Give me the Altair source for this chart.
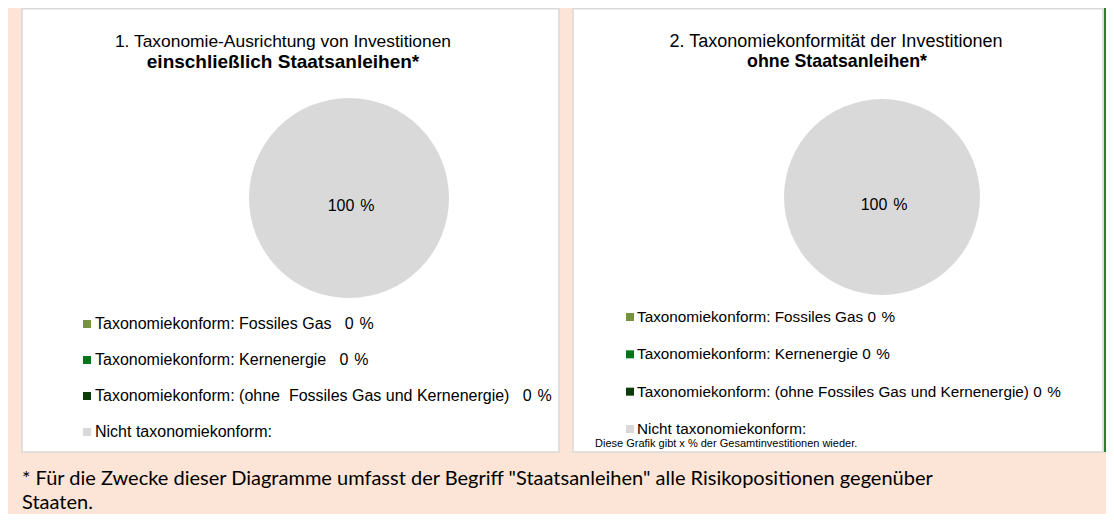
import altair as alt
import pandas as pd

# ---- data -------------------------------------------------------------
title_1 = "1. Taxonomie-Ausrichtung von Investitionen"
title_1b = "einschließlich Staatsanleihen*"
title_2 = "2. Taxonomiekonformität der Investitionen"
title_2b = "ohne Staatsanleihen*"

categories_1 = [
    "Taxonomiekonform: Fossiles Gas",
    "Taxonomiekonform: Kernenergie",
    "Taxonomiekonform: (ohne\u00a0 Fossiles Gas und Kernenergie)",
    "Nicht taxonomiekonform:",
]
categories_2 = [
    "Taxonomiekonform: Fossiles Gas",
    "Taxonomiekonform: Kernenergie",
    "Taxonomiekonform: (ohne Fossiles Gas und Kernenergie)",
    "Nicht taxonomiekonform:",
]
values_1 = [0, 0, 0, 100]
values_2 = [0, 0, 0, 100]
series_idx = [0, 1, 2, 3]
colors = ["#77933C", "#00761B", "#0B3D0B", "#D9D9D9"]

note_2 = "Diese Grafik gibt x % der Gesamtinvestitionen wieder."
footnote_1 = '* Für die Zwecke dieser Diagramme umfasst der Begriff "Staatsanleihen" alle Risikopositionen gegenüber'
footnote_2 = "Staaten."

FONT = "Liberation Sans"
PCT = "\u00a0\u200a%"
df1 = pd.DataFrame({"category": categories_1, "value": values_1, "idx": series_idx})
df2 = pd.DataFrame({"category": categories_2, "value": values_2, "idx": series_idx})

color_enc = alt.Color(
    "idx:O", scale=alt.Scale(domain=series_idx, range=colors), legend=None
)
dummy = alt.Data(values=[{}])


def panel_rect(x1, x2):
    return alt.Chart(dummy).mark_rect(
        fill="white", stroke="#D9D9D9", strokeWidth=1.5
    ).encode(
        x=alt.value(x1), x2=alt.value(x2), y=alt.value(0.75), y2=alt.value(444)
    )


def static_text(txt, x, y, size, weight="normal", align="center", font=FONT,
                color="black"):
    return alt.Chart(dummy).mark_text(
        text=txt, fontSize=size, fontWeight=weight, align=align,
        baseline="middle", font=font, color=color,
    ).encode(x=alt.value(x), y=alt.value(y))


def pie(df, cx, cy, r):
    base = alt.Chart(df).encode(
        theta=alt.Theta("value:Q", stack=True, scale=alt.Scale(domain=[0, 100])),
        x=alt.value(cx), y=alt.value(cy),
    )
    arc = base.mark_arc(outerRadius=r).encode(color=color_enc)
    lab = base.transform_filter("datum.value > 0").transform_calculate(
        lbl="datum.value + '" + PCT + "'"
    ).mark_text(radius=8, dx=2, fontSize=16, font=FONT, color="black").encode(
        text="lbl:N"
    )
    return arc, lab


def legend(df, sq_x, tx_x, y0, y1, size, sep):
    yenc = alt.Y(
        "idx:O",
        scale=alt.Scale(type="point", domain=series_idx, range=[y0, y1], padding=0),
        axis=None,
    )
    sq = alt.Chart(df).mark_square(size=64, opacity=1).encode(
        x=alt.value(sq_x), y=yenc, color=color_enc
    )
    tx = alt.Chart(df).transform_calculate(
        lbl="datum.category + (datum.value > 0 ? '' : '" + sep + "' + datum.value + '" + PCT + "')"
    ).mark_text(align="left", baseline="middle", fontSize=size, font=FONT,
                color="black").encode(x=alt.value(tx_x), y=yenc, text="lbl:N")
    return sq, tx


arc1, lab1 = pie(df1, 341, 190, 100)
arc2, lab2 = pie(df2, 874, 189, 98)
sq1, tx1 = legend(df1, 79, 87, 316, 424, 16, "\u00a0\u00a0\u00a0")
sq2, tx2 = legend(df2, 622, 629, 309, 421, 15.3, "\u00a0")

green_edge = alt.Chart(dummy).mark_rule(color="#2E7D32", strokeWidth=2).encode(
    x=alt.value(1097), y=alt.value(0), y2=alt.value(444)
)

layers = [
    panel_rect(14, 551),
    panel_rect(565, 1095),
    green_edge,
    static_text(title_1, 275, 34, 17.4),
    static_text(title_1b, 275, 54, 19, weight="bold"),
    static_text(title_2, 828, 34, 18),
    static_text(title_2b, 829, 54, 17.8, weight="bold"),
    arc1, lab1, arc2, lab2,
    sq1, tx1, sq2, tx2,
    static_text(note_2, 587, 436, 11, align="left"),
    static_text(footnote_1, 14, 471, 20, align="left", font="Lato"),
    static_text(footnote_2, 14, 495, 20, align="left", font="Lato"),
]

chart = alt.layer(*layers).resolve_scale(y="independent").properties(
    width=1098, height=506, background="#FCE4D6", padding=0,
    autosize=alt.AutoSizeParams(type="none"),
).configure_view(strokeWidth=0)

chart.save("out.html", embed_options={"renderer": "svg", "actions": False})
